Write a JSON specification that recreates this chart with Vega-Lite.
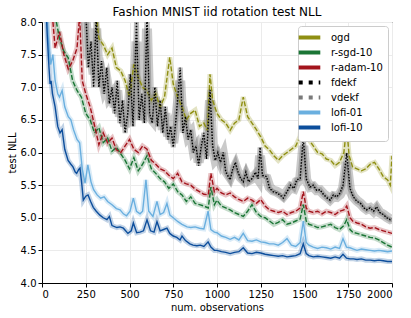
{
"$schema": "https://vega.github.io/schema/vega-lite/v6.json",
"width": 350, "height": 261,
"autosize": {"type": "none"},
"padding": {"left": 42, "top": 22, "right": 19, "bottom": 35},
"background": "white",
"config": {
  "font": "DejaVu Sans",
  "view": {"stroke": "black", "strokeWidth": 1},
  "axis": {"labelFontSize": 10, "labelColor": "black", "titleFontSize": 10, "titleFontWeight": "normal", "titleColor": "black", "domainColor": "black", "tickColor": "black", "tickSize": 4, "gridColor": "#ebebeb", "labelPadding": 2}
},
"title": {"text": "Fashion MNIST iid rotation test NLL", "fontSize": 12, "fontWeight": "normal", "color": "black", "offset": -2},
"data": {"values": [
{"s":"ogd","x":0,"y":11},{"s":"ogd","x":50,"y":10.5},{"s":"ogd","x":100,"y":10},{"s":"ogd","x":150,"y":9.6},{"s":"ogd","x":200,"y":9.2},{"s":"ogd","x":250,"y":8.8},{"s":"ogd","x":300,"y":8.3},{"s":"ogd","x":325,"y":7.75},{"s":"ogd","x":350,"y":7.65},{"s":"ogd","x":375,"y":7.5},{"s":"ogd","x":400,"y":7.6},{"s":"ogd","x":425,"y":7.3},{"s":"ogd","x":450,"y":7.25},{"s":"ogd","x":475,"y":7.1},{"s":"ogd","x":500,"y":6.85},{"s":"ogd","x":525,"y":7.35},{"s":"ogd","x":550,"y":7.15},{"s":"ogd","x":575,"y":7.0},{"s":"ogd","x":600,"y":6.95},{"s":"ogd","x":625,"y":6.8},{"s":"ogd","x":650,"y":6.9},{"s":"ogd","x":675,"y":6.7},{"s":"ogd","x":700,"y":6.85},{"s":"ogd","x":730,"y":7.46},{"s":"ogd","x":750,"y":7.05},{"s":"ogd","x":775,"y":6.85},{"s":"ogd","x":800,"y":6.7},{"s":"ogd","x":825,"y":6.5},{"s":"ogd","x":850,"y":6.6},{"s":"ogd","x":875,"y":6.65},{"s":"ogd","x":900,"y":6.4},{"s":"ogd","x":925,"y":6.45},{"s":"ogd","x":945,"y":6.34},{"s":"ogd","x":960,"y":7.2},{"s":"ogd","x":975,"y":6.8},{"s":"ogd","x":1000,"y":6.6},{"s":"ogd","x":1025,"y":6.5},{"s":"ogd","x":1050,"y":6.45},{"s":"ogd","x":1075,"y":6.34},{"s":"ogd","x":1100,"y":6.45},{"s":"ogd","x":1125,"y":6.5},{"s":"ogd","x":1150,"y":6.85},{"s":"ogd","x":1175,"y":6.55},{"s":"ogd","x":1200,"y":6.45},{"s":"ogd","x":1225,"y":6.35},{"s":"ogd","x":1250,"y":6.24},{"s":"ogd","x":1275,"y":6.1},{"s":"ogd","x":1300,"y":6.04},{"s":"ogd","x":1325,"y":5.95},{"s":"ogd","x":1350,"y":5.88},{"s":"ogd","x":1375,"y":5.95},{"s":"ogd","x":1400,"y":6.0},{"s":"ogd","x":1425,"y":6.05},{"s":"ogd","x":1450,"y":6.1},{"s":"ogd","x":1475,"y":6.25},{"s":"ogd","x":1493,"y":6.85},{"s":"ogd","x":1510,"y":6.35},{"s":"ogd","x":1525,"y":6.2},{"s":"ogd","x":1550,"y":6.1},{"s":"ogd","x":1575,"y":6.0},{"s":"ogd","x":1600,"y":5.98},{"s":"ogd","x":1625,"y":5.9},{"s":"ogd","x":1650,"y":5.88},{"s":"ogd","x":1675,"y":5.8},{"s":"ogd","x":1700,"y":5.85},{"s":"ogd","x":1725,"y":6.0},{"s":"ogd","x":1741,"y":6.39},{"s":"ogd","x":1755,"y":5.95},{"s":"ogd","x":1775,"y":5.78},{"s":"ogd","x":1800,"y":5.75},{"s":"ogd","x":1825,"y":5.72},{"s":"ogd","x":1850,"y":5.75},{"s":"ogd","x":1875,"y":5.82},{"s":"ogd","x":1900,"y":5.85},{"s":"ogd","x":1925,"y":5.75},{"s":"ogd","x":1950,"y":5.63},{"s":"ogd","x":1975,"y":5.58},{"s":"ogd","x":1990,"y":5.5},{"s":"ogd","x":2000,"y":5.95},

{"s":"r-sgd-10","x":0,"y":11},{"s":"r-sgd-10","x":25,"y":10},{"s":"r-sgd-10","x":50,"y":8.8},{"s":"r-sgd-10","x":75,"y":8.1},{"s":"r-sgd-10","x":100,"y":7.75},{"s":"r-sgd-10","x":125,"y":7.55},{"s":"r-sgd-10","x":150,"y":7.45},{"s":"r-sgd-10","x":175,"y":7.1},{"s":"r-sgd-10","x":200,"y":6.95},{"s":"r-sgd-10","x":225,"y":6.85},{"s":"r-sgd-10","x":250,"y":6.6},{"s":"r-sgd-10","x":275,"y":6.5},{"s":"r-sgd-10","x":300,"y":6.3},{"s":"r-sgd-10","x":325,"y":6.38},{"s":"r-sgd-10","x":350,"y":6.15},{"s":"r-sgd-10","x":375,"y":6.22},{"s":"r-sgd-10","x":400,"y":6.02},{"s":"r-sgd-10","x":425,"y":6.08},{"s":"r-sgd-10","x":450,"y":5.98},{"s":"r-sgd-10","x":475,"y":5.88},{"s":"r-sgd-10","x":500,"y":5.75},{"s":"r-sgd-10","x":525,"y":5.92},{"s":"r-sgd-10","x":550,"y":5.72},{"s":"r-sgd-10","x":575,"y":5.82},{"s":"r-sgd-10","x":600,"y":5.95},{"s":"r-sgd-10","x":625,"y":5.75},{"s":"r-sgd-10","x":650,"y":5.68},{"s":"r-sgd-10","x":675,"y":5.6},{"s":"r-sgd-10","x":700,"y":5.55},{"s":"r-sgd-10","x":725,"y":5.45},{"s":"r-sgd-10","x":750,"y":5.52},{"s":"r-sgd-10","x":775,"y":5.4},{"s":"r-sgd-10","x":800,"y":5.35},{"s":"r-sgd-10","x":825,"y":5.25},{"s":"r-sgd-10","x":850,"y":5.32},{"s":"r-sgd-10","x":875,"y":5.22},{"s":"r-sgd-10","x":900,"y":5.2},{"s":"r-sgd-10","x":925,"y":5.18},{"s":"r-sgd-10","x":950,"y":5.15},{"s":"r-sgd-10","x":965,"y":5.47},{"s":"r-sgd-10","x":985,"y":5.2},{"s":"r-sgd-10","x":1000,"y":5.27},{"s":"r-sgd-10","x":1025,"y":5.18},{"s":"r-sgd-10","x":1050,"y":5.15},{"s":"r-sgd-10","x":1075,"y":5.12},{"s":"r-sgd-10","x":1100,"y":5.08},{"s":"r-sgd-10","x":1125,"y":5.05},{"s":"r-sgd-10","x":1150,"y":5.02},{"s":"r-sgd-10","x":1175,"y":5.1},{"s":"r-sgd-10","x":1200,"y":5.2},{"s":"r-sgd-10","x":1225,"y":5.08},{"s":"r-sgd-10","x":1250,"y":5.02},{"s":"r-sgd-10","x":1275,"y":5.0},{"s":"r-sgd-10","x":1300,"y":4.95},{"s":"r-sgd-10","x":1325,"y":4.9},{"s":"r-sgd-10","x":1350,"y":4.93},{"s":"r-sgd-10","x":1375,"y":4.97},{"s":"r-sgd-10","x":1400,"y":4.9},{"s":"r-sgd-10","x":1425,"y":4.92},{"s":"r-sgd-10","x":1450,"y":4.95},{"s":"r-sgd-10","x":1475,"y":4.98},{"s":"r-sgd-10","x":1493,"y":5.2},{"s":"r-sgd-10","x":1510,"y":4.95},{"s":"r-sgd-10","x":1525,"y":4.9},{"s":"r-sgd-10","x":1550,"y":4.88},{"s":"r-sgd-10","x":1575,"y":4.85},{"s":"r-sgd-10","x":1600,"y":4.86},{"s":"r-sgd-10","x":1625,"y":4.88},{"s":"r-sgd-10","x":1650,"y":4.9},{"s":"r-sgd-10","x":1675,"y":4.85},{"s":"r-sgd-10","x":1700,"y":4.82},{"s":"r-sgd-10","x":1725,"y":4.88},{"s":"r-sgd-10","x":1741,"y":4.97},{"s":"r-sgd-10","x":1760,"y":4.82},{"s":"r-sgd-10","x":1775,"y":4.78},{"s":"r-sgd-10","x":1800,"y":4.76},{"s":"r-sgd-10","x":1825,"y":4.74},{"s":"r-sgd-10","x":1850,"y":4.72},{"s":"r-sgd-10","x":1875,"y":4.7},{"s":"r-sgd-10","x":1900,"y":4.69},{"s":"r-sgd-10","x":1925,"y":4.66},{"s":"r-sgd-10","x":1950,"y":4.62},{"s":"r-sgd-10","x":1975,"y":4.58},{"s":"r-sgd-10","x":2000,"y":4.55},

{"s":"r-adam-10","x":0,"y":11},{"s":"r-adam-10","x":25,"y":9.5},{"s":"r-adam-10","x":50,"y":8.4},{"s":"r-adam-10","x":75,"y":7.6},{"s":"r-adam-10","x":100,"y":7.85},{"s":"r-adam-10","x":125,"y":7.5},{"s":"r-adam-10","x":150,"y":7.28},{"s":"r-adam-10","x":175,"y":7.4},{"s":"r-adam-10","x":200,"y":7.6},{"s":"r-adam-10","x":215,"y":8.1},{"s":"r-adam-10","x":230,"y":7.1},{"s":"r-adam-10","x":250,"y":6.9},{"s":"r-adam-10","x":275,"y":6.7},{"s":"r-adam-10","x":300,"y":6.42},{"s":"r-adam-10","x":325,"y":6.12},{"s":"r-adam-10","x":350,"y":6.3},{"s":"r-adam-10","x":375,"y":6.15},{"s":"r-adam-10","x":400,"y":6.22},{"s":"r-adam-10","x":425,"y":6.04},{"s":"r-adam-10","x":450,"y":6.0},{"s":"r-adam-10","x":475,"y":6.1},{"s":"r-adam-10","x":500,"y":6.2},{"s":"r-adam-10","x":525,"y":6.05},{"s":"r-adam-10","x":550,"y":6.0},{"s":"r-adam-10","x":575,"y":6.1},{"s":"r-adam-10","x":600,"y":6.05},{"s":"r-adam-10","x":625,"y":5.88},{"s":"r-adam-10","x":650,"y":5.82},{"s":"r-adam-10","x":675,"y":5.75},{"s":"r-adam-10","x":700,"y":5.72},{"s":"r-adam-10","x":725,"y":5.65},{"s":"r-adam-10","x":750,"y":5.6},{"s":"r-adam-10","x":775,"y":5.68},{"s":"r-adam-10","x":800,"y":5.55},{"s":"r-adam-10","x":825,"y":5.52},{"s":"r-adam-10","x":850,"y":5.5},{"s":"r-adam-10","x":875,"y":5.44},{"s":"r-adam-10","x":900,"y":5.4},{"s":"r-adam-10","x":925,"y":5.36},{"s":"r-adam-10","x":950,"y":5.35},{"s":"r-adam-10","x":965,"y":5.68},{"s":"r-adam-10","x":985,"y":5.4},{"s":"r-adam-10","x":1000,"y":5.45},{"s":"r-adam-10","x":1025,"y":5.38},{"s":"r-adam-10","x":1050,"y":5.35},{"s":"r-adam-10","x":1075,"y":5.38},{"s":"r-adam-10","x":1100,"y":5.32},{"s":"r-adam-10","x":1125,"y":5.28},{"s":"r-adam-10","x":1150,"y":5.25},{"s":"r-adam-10","x":1175,"y":5.3},{"s":"r-adam-10","x":1200,"y":5.27},{"s":"r-adam-10","x":1225,"y":5.22},{"s":"r-adam-10","x":1250,"y":5.28},{"s":"r-adam-10","x":1275,"y":5.18},{"s":"r-adam-10","x":1300,"y":5.12},{"s":"r-adam-10","x":1325,"y":5.1},{"s":"r-adam-10","x":1350,"y":5.08},{"s":"r-adam-10","x":1375,"y":5.1},{"s":"r-adam-10","x":1400,"y":5.05},{"s":"r-adam-10","x":1425,"y":5.08},{"s":"r-adam-10","x":1450,"y":5.1},{"s":"r-adam-10","x":1475,"y":5.15},{"s":"r-adam-10","x":1493,"y":5.4},{"s":"r-adam-10","x":1510,"y":5.15},{"s":"r-adam-10","x":1525,"y":5.1},{"s":"r-adam-10","x":1550,"y":5.08},{"s":"r-adam-10","x":1575,"y":5.1},{"s":"r-adam-10","x":1600,"y":5.06},{"s":"r-adam-10","x":1625,"y":5.1},{"s":"r-adam-10","x":1650,"y":5.08},{"s":"r-adam-10","x":1675,"y":5.05},{"s":"r-adam-10","x":1700,"y":5.1},{"s":"r-adam-10","x":1725,"y":5.12},{"s":"r-adam-10","x":1741,"y":5.18},{"s":"r-adam-10","x":1760,"y":5.0},{"s":"r-adam-10","x":1775,"y":4.95},{"s":"r-adam-10","x":1800,"y":4.92},{"s":"r-adam-10","x":1825,"y":4.9},{"s":"r-adam-10","x":1850,"y":4.86},{"s":"r-adam-10","x":1875,"y":4.84},{"s":"r-adam-10","x":1900,"y":4.85},{"s":"r-adam-10","x":1925,"y":4.82},{"s":"r-adam-10","x":1950,"y":4.8},{"s":"r-adam-10","x":1975,"y":4.78},{"s":"r-adam-10","x":2000,"y":4.76},

{"s":"vdekf","x":0,"y":12},{"s":"vdekf","x":100,"y":11},{"s":"vdekf","x":200,"y":9.3},{"s":"vdekf","x":225,"y":8.6},{"s":"vdekf","x":250,"y":8.0},{"s":"vdekf","x":265,"y":7.5},{"s":"vdekf","x":280,"y":7.5},{"s":"vdekf","x":295,"y":7.2},{"s":"vdekf","x":310,"y":7.9},{"s":"vdekf","x":325,"y":7.1},{"s":"vdekf","x":340,"y":7.2},{"s":"vdekf","x":355,"y":7.0},{"s":"vdekf","x":370,"y":7.1},{"s":"vdekf","x":385,"y":6.85},{"s":"vdekf","x":400,"y":6.9},{"s":"vdekf","x":415,"y":6.7},{"s":"vdekf","x":430,"y":6.95},{"s":"vdekf","x":445,"y":6.55},{"s":"vdekf","x":460,"y":6.7},{"s":"vdekf","x":475,"y":6.4},{"s":"vdekf","x":490,"y":6.55},{"s":"vdekf","x":505,"y":7.0},{"s":"vdekf","x":520,"y":6.5},{"s":"vdekf","x":540,"y":7.7},{"s":"vdekf","x":555,"y":6.6},{"s":"vdekf","x":570,"y":6.8},{"s":"vdekf","x":585,"y":6.5},{"s":"vdekf","x":600,"y":7.9},{"s":"vdekf","x":615,"y":6.55},{"s":"vdekf","x":630,"y":6.5},{"s":"vdekf","x":645,"y":6.85},{"s":"vdekf","x":660,"y":6.45},{"s":"vdekf","x":675,"y":6.7},{"s":"vdekf","x":690,"y":6.35},{"s":"vdekf","x":705,"y":6.6},{"s":"vdekf","x":720,"y":6.25},{"s":"vdekf","x":735,"y":6.35},{"s":"vdekf","x":750,"y":6.15},{"s":"vdekf","x":765,"y":6.45},{"s":"vdekf","x":790,"y":7.1},{"s":"vdekf","x":805,"y":6.35},{"s":"vdekf","x":820,"y":6.45},{"s":"vdekf","x":835,"y":6.25},{"s":"vdekf","x":850,"y":6.3},{"s":"vdekf","x":865,"y":6.05},{"s":"vdekf","x":880,"y":6.1},{"s":"vdekf","x":895,"y":5.85},{"s":"vdekf","x":910,"y":6.05},{"s":"vdekf","x":925,"y":6.2},{"s":"vdekf","x":940,"y":5.95},{"s":"vdekf","x":960,"y":6.8},{"s":"vdekf","x":975,"y":6.1},{"s":"vdekf","x":990,"y":5.9},{"s":"vdekf","x":1005,"y":5.95},{"s":"vdekf","x":1020,"y":5.85},{"s":"vdekf","x":1036,"y":5.95},{"s":"vdekf","x":1050,"y":5.72},{"s":"vdekf","x":1075,"y":5.62},{"s":"vdekf","x":1090,"y":5.72},{"s":"vdekf","x":1105,"y":5.8},{"s":"vdekf","x":1120,"y":5.68},{"s":"vdekf","x":1135,"y":5.62},{"s":"vdekf","x":1150,"y":5.58},{"s":"vdekf","x":1165,"y":5.66},{"s":"vdekf","x":1180,"y":5.57},{"s":"vdekf","x":1200,"y":5.6},{"s":"vdekf","x":1220,"y":5.66},{"s":"vdekf","x":1235,"y":5.6},{"s":"vdekf","x":1246,"y":5.95},{"s":"vdekf","x":1260,"y":5.62},{"s":"vdekf","x":1284,"y":5.6},{"s":"vdekf","x":1300,"y":5.47},{"s":"vdekf","x":1320,"y":5.42},{"s":"vdekf","x":1341,"y":5.4},{"s":"vdekf","x":1360,"y":5.37},{"s":"vdekf","x":1379,"y":5.33},{"s":"vdekf","x":1400,"y":5.4},{"s":"vdekf","x":1420,"y":5.47},{"s":"vdekf","x":1440,"y":5.45},{"s":"vdekf","x":1455,"y":5.55},{"s":"vdekf","x":1475,"y":5.58},{"s":"vdekf","x":1493,"y":6.1},{"s":"vdekf","x":1510,"y":5.58},{"s":"vdekf","x":1531,"y":5.47},{"s":"vdekf","x":1550,"y":5.48},{"s":"vdekf","x":1570,"y":5.42},{"s":"vdekf","x":1589,"y":5.42},{"s":"vdekf","x":1610,"y":5.36},{"s":"vdekf","x":1630,"y":5.32},{"s":"vdekf","x":1646,"y":5.28},{"s":"vdekf","x":1665,"y":5.33},{"s":"vdekf","x":1685,"y":5.32},{"s":"vdekf","x":1703,"y":5.36},{"s":"vdekf","x":1720,"y":5.45},{"s":"vdekf","x":1741,"y":5.85},{"s":"vdekf","x":1760,"y":5.42},{"s":"vdekf","x":1779,"y":5.32},{"s":"vdekf","x":1800,"y":5.26},{"s":"vdekf","x":1820,"y":5.22},{"s":"vdekf","x":1840,"y":5.16},{"s":"vdekf","x":1855,"y":5.13},{"s":"vdekf","x":1875,"y":5.15},{"s":"vdekf","x":1895,"y":5.1},{"s":"vdekf","x":1912,"y":5.15},{"s":"vdekf","x":1930,"y":5.08},{"s":"vdekf","x":1950,"y":5.05},{"s":"vdekf","x":1970,"y":5.01},{"s":"vdekf","x":1989,"y":4.98},{"s":"vdekf","x":2000,"y":4.99},

{"s":"fdekf","x":0,"y":12},{"s":"fdekf","x":100,"y":11},{"s":"fdekf","x":200,"y":9.5},{"s":"fdekf","x":225,"y":8.8},{"s":"fdekf","x":250,"y":8.2},{"s":"fdekf","x":265,"y":7.3},{"s":"fdekf","x":280,"y":7.7},{"s":"fdekf","x":295,"y":7.0},{"s":"fdekf","x":310,"y":8.1},{"s":"fdekf","x":325,"y":7.0},{"s":"fdekf","x":340,"y":7.4},{"s":"fdekf","x":355,"y":6.9},{"s":"fdekf","x":370,"y":7.3},{"s":"fdekf","x":385,"y":6.75},{"s":"fdekf","x":400,"y":7.0},{"s":"fdekf","x":415,"y":6.6},{"s":"fdekf","x":430,"y":7.1},{"s":"fdekf","x":445,"y":6.45},{"s":"fdekf","x":460,"y":6.8},{"s":"fdekf","x":475,"y":6.3},{"s":"fdekf","x":490,"y":6.6},{"s":"fdekf","x":505,"y":7.2},{"s":"fdekf","x":520,"y":6.4},{"s":"fdekf","x":540,"y":8.0},{"s":"fdekf","x":555,"y":6.5},{"s":"fdekf","x":570,"y":6.9},{"s":"fdekf","x":585,"y":6.45},{"s":"fdekf","x":600,"y":8.1},{"s":"fdekf","x":615,"y":6.6},{"s":"fdekf","x":630,"y":6.45},{"s":"fdekf","x":645,"y":7.0},{"s":"fdekf","x":660,"y":6.4},{"s":"fdekf","x":675,"y":6.8},{"s":"fdekf","x":690,"y":6.3},{"s":"fdekf","x":705,"y":6.7},{"s":"fdekf","x":720,"y":6.2},{"s":"fdekf","x":735,"y":6.4},{"s":"fdekf","x":750,"y":6.08},{"s":"fdekf","x":765,"y":6.5},{"s":"fdekf","x":790,"y":7.3},{"s":"fdekf","x":805,"y":6.3},{"s":"fdekf","x":820,"y":6.55},{"s":"fdekf","x":835,"y":6.2},{"s":"fdekf","x":850,"y":6.35},{"s":"fdekf","x":865,"y":6.0},{"s":"fdekf","x":880,"y":6.1},{"s":"fdekf","x":895,"y":5.8},{"s":"fdekf","x":910,"y":6.1},{"s":"fdekf","x":925,"y":6.3},{"s":"fdekf","x":940,"y":5.9},{"s":"fdekf","x":960,"y":6.96},{"s":"fdekf","x":975,"y":6.1},{"s":"fdekf","x":990,"y":5.88},{"s":"fdekf","x":1005,"y":6.0},{"s":"fdekf","x":1020,"y":5.85},{"s":"fdekf","x":1036,"y":6.0},{"s":"fdekf","x":1050,"y":5.7},{"s":"fdekf","x":1075,"y":5.58},{"s":"fdekf","x":1090,"y":5.75},{"s":"fdekf","x":1105,"y":5.85},{"s":"fdekf","x":1120,"y":5.7},{"s":"fdekf","x":1135,"y":5.6},{"s":"fdekf","x":1150,"y":5.55},{"s":"fdekf","x":1165,"y":5.7},{"s":"fdekf","x":1180,"y":5.55},{"s":"fdekf","x":1200,"y":5.6},{"s":"fdekf","x":1220,"y":5.7},{"s":"fdekf","x":1235,"y":5.6},{"s":"fdekf","x":1246,"y":6.08},{"s":"fdekf","x":1260,"y":5.65},{"s":"fdekf","x":1284,"y":5.63},{"s":"fdekf","x":1300,"y":5.45},{"s":"fdekf","x":1320,"y":5.4},{"s":"fdekf","x":1341,"y":5.38},{"s":"fdekf","x":1360,"y":5.35},{"s":"fdekf","x":1379,"y":5.3},{"s":"fdekf","x":1400,"y":5.4},{"s":"fdekf","x":1420,"y":5.5},{"s":"fdekf","x":1440,"y":5.45},{"s":"fdekf","x":1455,"y":5.58},{"s":"fdekf","x":1475,"y":5.6},{"s":"fdekf","x":1493,"y":6.24},{"s":"fdekf","x":1510,"y":5.6},{"s":"fdekf","x":1531,"y":5.47},{"s":"fdekf","x":1550,"y":5.5},{"s":"fdekf","x":1570,"y":5.42},{"s":"fdekf","x":1589,"y":5.43},{"s":"fdekf","x":1610,"y":5.35},{"s":"fdekf","x":1630,"y":5.3},{"s":"fdekf","x":1646,"y":5.27},{"s":"fdekf","x":1665,"y":5.35},{"s":"fdekf","x":1685,"y":5.32},{"s":"fdekf","x":1703,"y":5.38},{"s":"fdekf","x":1720,"y":5.5},{"s":"fdekf","x":1741,"y":5.99},{"s":"fdekf","x":1760,"y":5.45},{"s":"fdekf","x":1779,"y":5.32},{"s":"fdekf","x":1800,"y":5.25},{"s":"fdekf","x":1820,"y":5.22},{"s":"fdekf","x":1840,"y":5.15},{"s":"fdekf","x":1855,"y":5.12},{"s":"fdekf","x":1875,"y":5.15},{"s":"fdekf","x":1895,"y":5.1},{"s":"fdekf","x":1912,"y":5.17},{"s":"fdekf","x":1930,"y":5.08},{"s":"fdekf","x":1950,"y":5.05},{"s":"fdekf","x":1970,"y":5.0},{"s":"fdekf","x":1989,"y":4.97},{"s":"fdekf","x":2000,"y":4.98},

{"s":"lofi-01","x":0,"y":11},{"s":"lofi-01","x":10,"y":9.0},{"s":"lofi-01","x":25,"y":8.2},{"s":"lofi-01","x":40,"y":7.6},{"s":"lofi-01","x":50,"y":7.35},{"s":"lofi-01","x":62,"y":7.5},{"s":"lofi-01","x":75,"y":7.1},{"s":"lofi-01","x":90,"y":6.9},{"s":"lofi-01","x":100,"y":6.85},{"s":"lofi-01","x":115,"y":6.95},{"s":"lofi-01","x":130,"y":6.7},{"s":"lofi-01","x":150,"y":6.55},{"s":"lofi-01","x":165,"y":6.5},{"s":"lofi-01","x":180,"y":6.35},{"s":"lofi-01","x":200,"y":6.2},{"s":"lofi-01","x":215,"y":6.15},{"s":"lofi-01","x":230,"y":5.75},{"s":"lofi-01","x":246,"y":5.53},{"s":"lofi-01","x":262,"y":5.81},{"s":"lofi-01","x":280,"y":5.55},{"s":"lofi-01","x":295,"y":5.43},{"s":"lofi-01","x":315,"y":5.35},{"s":"lofi-01","x":335,"y":5.3},{"s":"lofi-01","x":355,"y":5.32},{"s":"lofi-01","x":375,"y":5.25},{"s":"lofi-01","x":400,"y":5.2},{"s":"lofi-01","x":425,"y":5.14},{"s":"lofi-01","x":446,"y":5.12},{"s":"lofi-01","x":465,"y":5.06},{"s":"lofi-01","x":483,"y":5.03},{"s":"lofi-01","x":503,"y":5.1},{"s":"lofi-01","x":522,"y":5.3},{"s":"lofi-01","x":540,"y":5.1},{"s":"lofi-01","x":560,"y":5.06},{"s":"lofi-01","x":575,"y":5.1},{"s":"lofi-01","x":594,"y":5.58},{"s":"lofi-01","x":610,"y":5.1},{"s":"lofi-01","x":634,"y":5.02},{"s":"lofi-01","x":657,"y":5.25},{"s":"lofi-01","x":675,"y":5.05},{"s":"lofi-01","x":695,"y":5.08},{"s":"lofi-01","x":714,"y":5.22},{"s":"lofi-01","x":731,"y":5.04},{"s":"lofi-01","x":750,"y":5.0},{"s":"lofi-01","x":777,"y":4.94},{"s":"lofi-01","x":800,"y":4.9},{"s":"lofi-01","x":829,"y":4.86},{"s":"lofi-01","x":850,"y":4.85},{"s":"lofi-01","x":875,"y":4.86},{"s":"lofi-01","x":900,"y":4.84},{"s":"lofi-01","x":925,"y":4.83},{"s":"lofi-01","x":949,"y":5.1},{"s":"lofi-01","x":965,"y":4.82},{"s":"lofi-01","x":985,"y":4.78},{"s":"lofi-01","x":1000,"y":4.77},{"s":"lofi-01","x":1025,"y":4.72},{"s":"lofi-01","x":1050,"y":4.7},{"s":"lofi-01","x":1075,"y":4.67},{"s":"lofi-01","x":1100,"y":4.7},{"s":"lofi-01","x":1125,"y":4.66},{"s":"lofi-01","x":1150,"y":4.76},{"s":"lofi-01","x":1175,"y":4.65},{"s":"lofi-01","x":1200,"y":4.64},{"s":"lofi-01","x":1225,"y":4.66},{"s":"lofi-01","x":1250,"y":4.63},{"s":"lofi-01","x":1275,"y":4.62},{"s":"lofi-01","x":1300,"y":4.6},{"s":"lofi-01","x":1325,"y":4.6},{"s":"lofi-01","x":1350,"y":4.58},{"s":"lofi-01","x":1375,"y":4.62},{"s":"lofi-01","x":1400,"y":4.68},{"s":"lofi-01","x":1425,"y":4.58},{"s":"lofi-01","x":1450,"y":4.56},{"s":"lofi-01","x":1475,"y":4.62},{"s":"lofi-01","x":1493,"y":4.95},{"s":"lofi-01","x":1510,"y":4.62},{"s":"lofi-01","x":1525,"y":4.58},{"s":"lofi-01","x":1550,"y":4.55},{"s":"lofi-01","x":1575,"y":4.53},{"s":"lofi-01","x":1600,"y":4.55},{"s":"lofi-01","x":1625,"y":4.54},{"s":"lofi-01","x":1650,"y":4.52},{"s":"lofi-01","x":1675,"y":4.55},{"s":"lofi-01","x":1700,"y":4.53},{"s":"lofi-01","x":1720,"y":4.68},{"s":"lofi-01","x":1740,"y":4.55},{"s":"lofi-01","x":1760,"y":4.54},{"s":"lofi-01","x":1780,"y":4.52},{"s":"lofi-01","x":1800,"y":4.5},{"s":"lofi-01","x":1825,"y":4.52},{"s":"lofi-01","x":1850,"y":4.51},{"s":"lofi-01","x":1875,"y":4.5},{"s":"lofi-01","x":1900,"y":4.49},{"s":"lofi-01","x":1925,"y":4.5},{"s":"lofi-01","x":1950,"y":4.49},{"s":"lofi-01","x":1975,"y":4.48},{"s":"lofi-01","x":2000,"y":4.49},

{"s":"lofi-10","x":0,"y":11},{"s":"lofi-10","x":10,"y":9.2},{"s":"lofi-10","x":20,"y":8.4},{"s":"lofi-10","x":30,"y":7.8},{"s":"lofi-10","x":40,"y":7.3},{"s":"lofi-10","x":46,"y":7.05},{"s":"lofi-10","x":52,"y":7.1},{"s":"lofi-10","x":60,"y":6.9},{"s":"lofi-10","x":75,"y":6.7},{"s":"lofi-10","x":90,"y":6.4},{"s":"lofi-10","x":103,"y":6.3},{"s":"lofi-10","x":115,"y":6.35},{"s":"lofi-10","x":130,"y":6.05},{"s":"lofi-10","x":149,"y":5.88},{"s":"lofi-10","x":165,"y":5.82},{"s":"lofi-10","x":177,"y":5.78},{"s":"lofi-10","x":190,"y":5.7},{"s":"lofi-10","x":198,"y":5.68},{"s":"lofi-10","x":210,"y":5.74},{"s":"lofi-10","x":217,"y":5.76},{"s":"lofi-10","x":228,"y":5.5},{"s":"lofi-10","x":236,"y":5.27},{"s":"lofi-10","x":250,"y":5.33},{"s":"lofi-10","x":263,"y":5.35},{"s":"lofi-10","x":278,"y":5.25},{"s":"lofi-10","x":293,"y":5.16},{"s":"lofi-10","x":310,"y":5.1},{"s":"lofi-10","x":331,"y":5.04},{"s":"lofi-10","x":350,"y":5.0},{"s":"lofi-10","x":371,"y":4.97},{"s":"lofi-10","x":385,"y":5.02},{"s":"lofi-10","x":400,"y":4.88},{"s":"lofi-10","x":428,"y":4.85},{"s":"lofi-10","x":446,"y":4.86},{"s":"lofi-10","x":465,"y":4.84},{"s":"lofi-10","x":491,"y":4.76},{"s":"lofi-10","x":510,"y":4.8},{"s":"lofi-10","x":522,"y":4.92},{"s":"lofi-10","x":541,"y":4.77},{"s":"lofi-10","x":560,"y":4.78},{"s":"lofi-10","x":580,"y":4.8},{"s":"lofi-10","x":600,"y":4.97},{"s":"lofi-10","x":620,"y":4.8},{"s":"lofi-10","x":640,"y":4.78},{"s":"lofi-10","x":657,"y":4.94},{"s":"lofi-10","x":675,"y":4.8},{"s":"lofi-10","x":695,"y":4.82},{"s":"lofi-10","x":714,"y":4.84},{"s":"lofi-10","x":730,"y":4.76},{"s":"lofi-10","x":750,"y":4.72},{"s":"lofi-10","x":770,"y":4.7},{"s":"lofi-10","x":789,"y":4.66},{"s":"lofi-10","x":800,"y":4.72},{"s":"lofi-10","x":820,"y":4.65},{"s":"lofi-10","x":845,"y":4.6},{"s":"lofi-10","x":863,"y":4.58},{"s":"lofi-10","x":885,"y":4.57},{"s":"lofi-10","x":905,"y":4.58},{"s":"lofi-10","x":925,"y":4.56},{"s":"lofi-10","x":949,"y":4.63},{"s":"lofi-10","x":965,"y":4.55},{"s":"lofi-10","x":985,"y":4.5},{"s":"lofi-10","x":1000,"y":4.5},{"s":"lofi-10","x":1025,"y":4.48},{"s":"lofi-10","x":1050,"y":4.47},{"s":"lofi-10","x":1075,"y":4.45},{"s":"lofi-10","x":1100,"y":4.47},{"s":"lofi-10","x":1125,"y":4.48},{"s":"lofi-10","x":1150,"y":4.54},{"s":"lofi-10","x":1175,"y":4.46},{"s":"lofi-10","x":1200,"y":4.45},{"s":"lofi-10","x":1225,"y":4.47},{"s":"lofi-10","x":1250,"y":4.46},{"s":"lofi-10","x":1275,"y":4.44},{"s":"lofi-10","x":1300,"y":4.43},{"s":"lofi-10","x":1325,"y":4.42},{"s":"lofi-10","x":1350,"y":4.41},{"s":"lofi-10","x":1375,"y":4.42},{"s":"lofi-10","x":1400,"y":4.4},{"s":"lofi-10","x":1425,"y":4.41},{"s":"lofi-10","x":1450,"y":4.42},{"s":"lofi-10","x":1475,"y":4.45},{"s":"lofi-10","x":1493,"y":4.6},{"s":"lofi-10","x":1510,"y":4.45},{"s":"lofi-10","x":1525,"y":4.42},{"s":"lofi-10","x":1550,"y":4.4},{"s":"lofi-10","x":1575,"y":4.41},{"s":"lofi-10","x":1600,"y":4.4},{"s":"lofi-10","x":1625,"y":4.39},{"s":"lofi-10","x":1650,"y":4.38},{"s":"lofi-10","x":1675,"y":4.4},{"s":"lofi-10","x":1700,"y":4.38},{"s":"lofi-10","x":1720,"y":4.44},{"s":"lofi-10","x":1740,"y":4.38},{"s":"lofi-10","x":1760,"y":4.37},{"s":"lofi-10","x":1780,"y":4.37},{"s":"lofi-10","x":1800,"y":4.36},{"s":"lofi-10","x":1825,"y":4.37},{"s":"lofi-10","x":1850,"y":4.35},{"s":"lofi-10","x":1875,"y":4.35},{"s":"lofi-10","x":1900,"y":4.34},{"s":"lofi-10","x":1925,"y":4.35},{"s":"lofi-10","x":1950,"y":4.34},{"s":"lofi-10","x":1975,"y":4.33},{"s":"lofi-10","x":2000,"y":4.33}
]},
"encoding": {
  "x": {"field": "x", "type": "quantitative", "scale": {"domain": [0, 2000], "nice": false}, "axis": {"values": [0,250,500,750,1000,1250,1500,1750,2000], "format": "d", "title": "num. observations", "titlePadding": 3}},
  "y": {"field": "y", "type": "quantitative", "scale": {"domain": [4, 8], "nice": false, "zero": false}, "axis": {"values": [4,4.5,5,5.5,6,6.5,7,7.5,8], "format": ".1f", "title": "test NLL", "titlePadding": 3}},
  "color": {"field": "s", "type": "nominal",
    "scale": {"domain": ["ogd","r-sgd-10","r-adam-10","fdekf","vdekf","lofi-01","lofi-10"], "range": ["#8f8f12","#1a7535","#a3141c","#000000","#7a7a7a","#6aafdf","#0d4e9c"]},
    "legend": {"title": null, "orient": "top-right", "offset": 4, "symbolType": "M-2.4,0H2.4", "symbolStrokeWidth": 4, "symbolSize": 81, "labelFontSize": 10, "labelColor": "black", "labelOffset": 15, "rowPadding": -2, "padding": 5, "strokeColor": "#cccccc", "fillColor": "white", "cornerRadius": 3,
      "encode": {"symbols": {"update": {"opacity": {"value": 1}, "strokeWidth": {"value": 4}, "strokeDash": [{"test": "datum.value === 'fdekf' || datum.value === 'vdekf'", "value": [4, 6]}, {"value": [1, 0]}]}}}}
  }
},
"layer": [
  {"transform": [{"filter": {"field": "s", "oneOf": ["ogd","r-sgd-10","r-adam-10","fdekf","lofi-01","lofi-10"]}}],
   "mark": {"type": "line", "clip": true, "opacity": 0.25, "strokeWidth": 5}},
  {"transform": [{"filter": {"field": "s", "equal": "vdekf"}}],
   "mark": {"type": "line", "clip": true, "opacity": 0.4, "strokeWidth": 10}},
  {"transform": [{"filter": {"field": "s", "oneOf": ["ogd","r-sgd-10","r-adam-10"]}}],
   "mark": {"type": "line", "clip": true, "strokeWidth": 1.4, "strokeDash": [5, 2]}},
  {"transform": [{"filter": {"field": "s", "oneOf": ["vdekf","fdekf"]}}],
   "mark": {"type": "line", "clip": true, "strokeWidth": 1.4, "strokeDash": [1.5, 1.5]}},
  {"transform": [{"filter": {"field": "s", "oneOf": ["lofi-01","lofi-10"]}}],
   "mark": {"type": "line", "clip": true, "strokeWidth": 1.4}}
]
}
